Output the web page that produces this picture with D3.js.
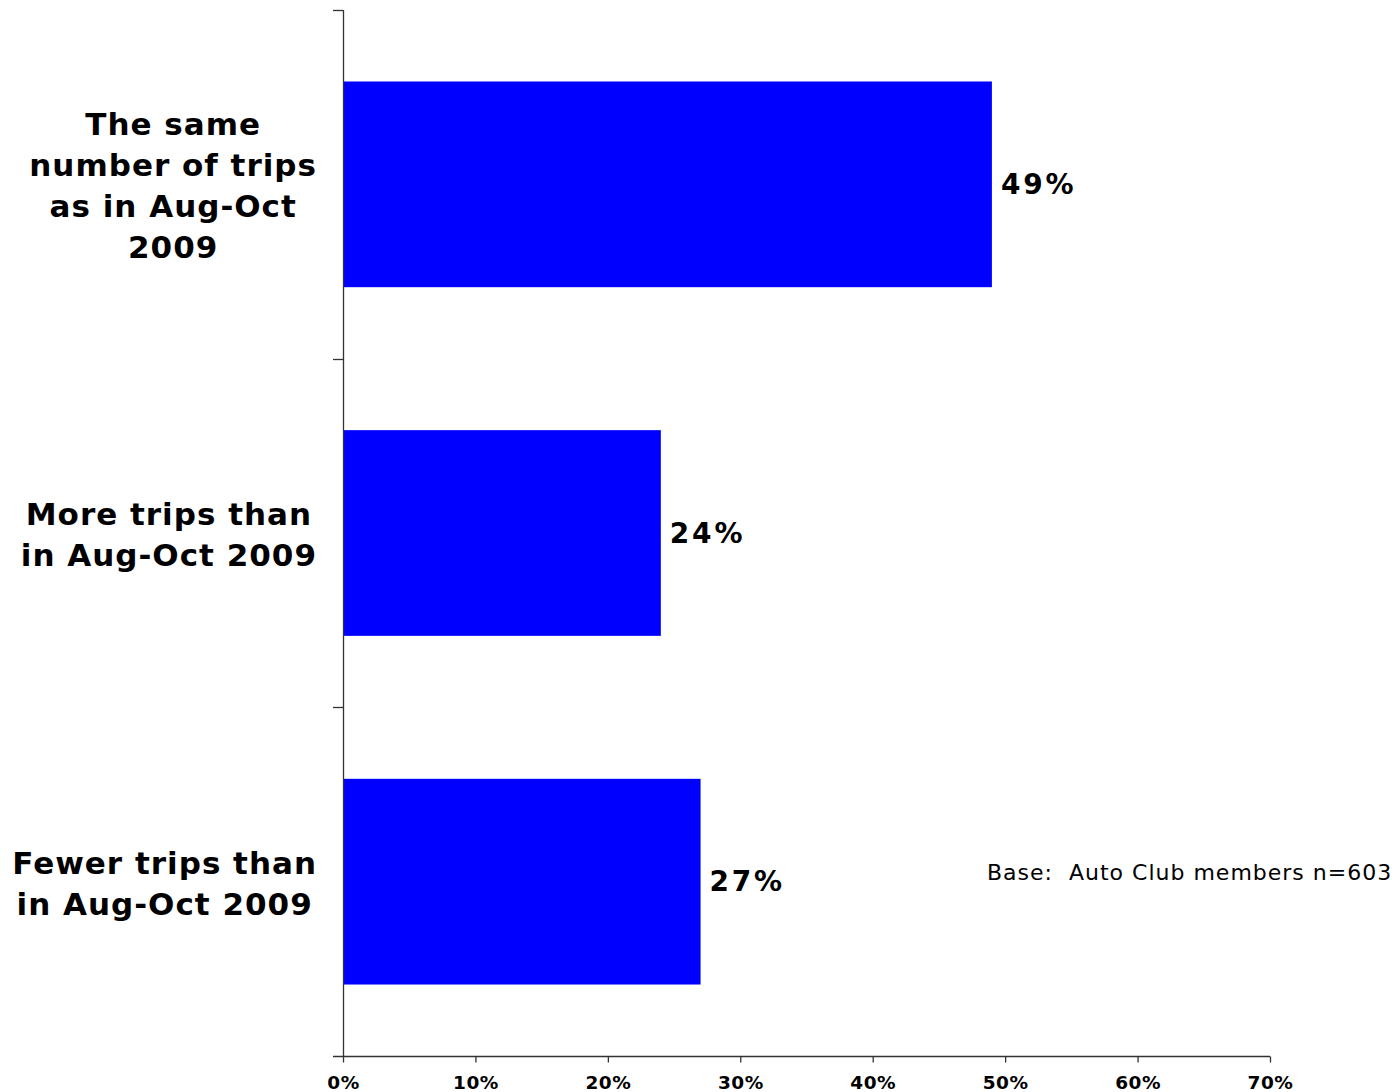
<!DOCTYPE html>
<html><head><meta charset="utf-8">
<script src="https://cdn.jsdelivr.net/npm/d3@7"></script>
<style>body{margin:0;background:#fff}svg{display:block}</style>
</head><body>
<script>
const categories = [
  ["The same", "number of trips", "as in Aug-Oct", "2009"],
  ["More trips than", "in Aug-Oct 2009"],
  ["Fewer trips than", "in Aug-Oct 2009"]
];
const values = [49, 24, 27];
const valueLabels = ["49%", "24%", "27%"];
const xTicks = [0, 10, 20, 30, 40, 50, 60, 70];
const note = "Base:  Auto Club members n=603";

const W = 1396, H = 1092;
const svg = d3.select("body").append("svg").attr("width", W).attr("height", H);
const font = "'DejaVu Sans', Verdana, sans-serif";

const x = d3.scaleLinear().domain([0, 70]).range([343, 1270]);
const y = d3.scaleBand().domain(d3.range(categories.length)).range([10, 1056])
  .paddingInner(0.41).paddingOuter(0.205);

// bars
svg.selectAll("rect.bar").data(values).join("rect")
  .attr("x", x(0)).attr("y", (d, i) => y(i))
  .attr("width", d => x(d) - x(0)).attr("height", y.bandwidth())
  .attr("fill", "#0000FF");

// value labels
svg.selectAll("text.val").data(values).join("text")
  .attr("x", d => x(d) + 9).attr("y", (d, i) => y(i) + y.bandwidth() / 2)
  .attr("dy", "0.35em")
  .attr("font-family", font).attr("font-weight", "bold").attr("font-size", 28)
  .attr("letter-spacing", 2.8)
  .attr("fill", "#000").text((d, i) => valueLabels[i]);

// y axis line with band-boundary ticks
const axisColor = "#333";
const step = (1056 - 10) / categories.length;
svg.append("line").attr("x1", 343.5).attr("x2", 343.5).attr("y1", 10).attr("y2", 1056)
  .attr("stroke", axisColor).attr("stroke-width", 1.3);
d3.range(categories.length).forEach(i => {
  const yy = Math.round(10 + i * step) + 0.5;
  svg.append("line").attr("x1", 333).attr("x2", 343).attr("y1", yy).attr("y2", yy)
    .attr("stroke", axisColor).attr("stroke-width", 1.3);
});

// x axis
const xAxis = svg.append("g").attr("transform", "translate(0,1056.5)")
  .call(d3.axisBottom(x).tickValues(xTicks).tickFormat(d => d + "%").tickSize(6).tickSizeOuter(0));
xAxis.select(".domain").attr("stroke", axisColor).attr("stroke-width", 1.3)
  .attr("d", `M333,0H${x(70)}`);
xAxis.selectAll(".tick line").attr("stroke", axisColor).attr("stroke-width", 1.3);
xAxis.selectAll(".tick text").attr("font-family", font).attr("font-weight", "bold")
  .attr("font-size", 18.5).attr("letter-spacing", 0.5).attr("fill", "#000")
  .attr("y", 16).attr("dy", "0.9em");

// category labels
const lineH = 41;
categories.forEach((lines, i) => {
  const g = svg.append("text").attr("font-family", font).attr("font-weight", "bold")
    .attr("font-size", 31).attr("letter-spacing", 1).attr("fill", "#000").attr("text-anchor", "middle");
  const cy = y(i) + y.bandwidth() / 2;
  const top = cy - (lines.length - 1) * lineH / 2;
  lines.forEach((l, j) => {
    g.append("tspan").attr("x", 0).attr("y", top + j * lineH + 1.5).attr("dy", "0.36em").text(l);
  });
  const maxW = d3.max(g.selectAll("tspan").nodes(), n => n.getComputedTextLength());
  g.selectAll("tspan").attr("x", 317 - maxW / 2);
});

// note
svg.append("text").attr("x", 987).attr("y", 872).attr("dy", "0.35em")
  .style("white-space", "pre")
  .attr("font-family", font).attr("font-size", 22).attr("letter-spacing", 1)
  .attr("fill", "#000").text(note);
</script>
</body></html>
